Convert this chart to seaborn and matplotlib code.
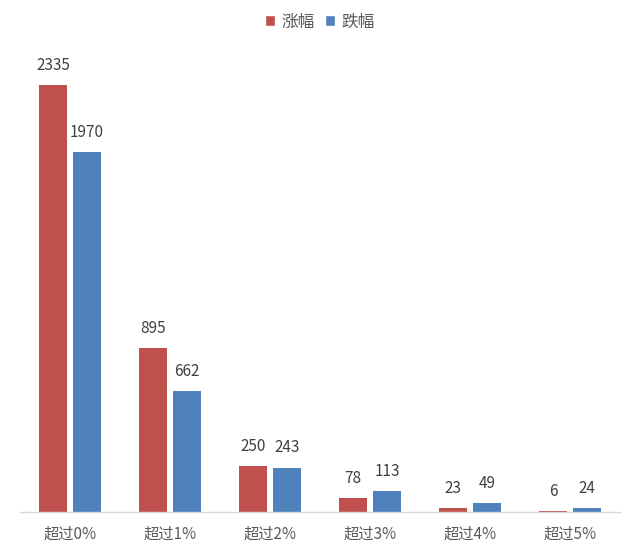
import matplotlib
matplotlib.use("Agg")
import matplotlib.pyplot as plt
import seaborn as sns
import pandas as pd
from matplotlib.patches import Patch

categories = ["超过0%", "超过1%", "超过2%", "超过3%", "超过4%", "超过5%"]
series_names = ["涨幅", "跌幅"]
rise = [2335, 895, 250, 78, 23, 6]
fall = [1970, 662, 243, 113, 49, 24]

colors = ["#C0504D", "#4F81BD"]

sns.set_theme(style="white")
plt.rcParams['font.family'] = ['Noto Sans CJK SC', 'DejaVu Sans']

df = pd.DataFrame({
    "cat": categories * 2,
    "series": [series_names[0]] * len(categories) + [series_names[1]] * len(categories),
    "value": rise + fall,
})

fig = plt.figure(figsize=(6.4, 5.54), dpi=100)
ax = fig.add_axes([20 / 640, 42 / 554, 600 / 640, (512 - 37) / 554])

sns.barplot(data=df, x="cat", y="value", hue="series", palette=colors,
            width=0.68, gap=0.18, ax=ax, legend=False, saturation=1,
            linewidth=0)

ax.set_xlim(-0.5, 5.5)
ax.set_ylim(0, 2600)
ax.set_xlabel("")
ax.set_ylabel("")
ax.set_yticks([])
for s in ["top", "right", "left"]:
    ax.spines[s].set_visible(False)
ax.spines["bottom"].set_color("#D9D9D9")
ax.spines["bottom"].set_linewidth(1)
ax.tick_params(axis="x", length=0, labelsize=11, labelcolor="#595959", pad=10)

for cont in ax.containers:
    ax.bar_label(cont, labels=[f"{int(v.get_height())}" for v in cont],
                 padding=8, fontsize=11, color="#404040")

handles = [Patch(facecolor=c, label=n) for c, n in zip(colors, series_names)]
fig.legend(handles=handles, loc="center", bbox_to_anchor=(0.5, 1 - 22 / 554), ncol=2,
           frameon=False, fontsize=12, handlelength=0.6, handleheight=0.6,
           handletextpad=0.4, columnspacing=0.6, labelcolor="#595959")

fig.savefig("out.png", dpi=100)
